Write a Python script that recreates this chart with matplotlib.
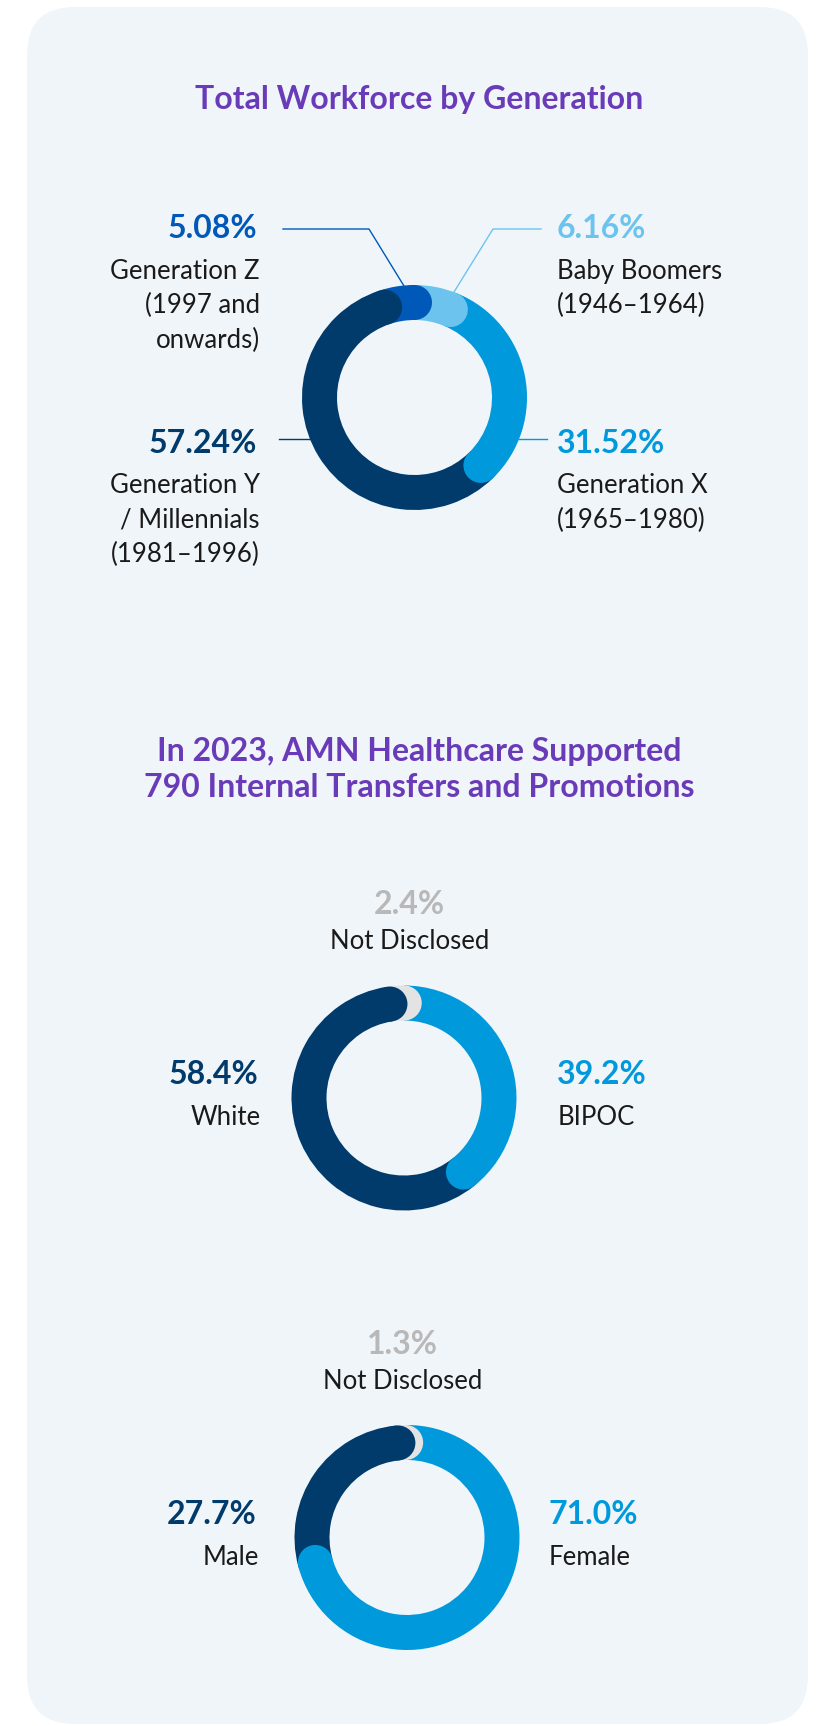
import matplotlib.pyplot as plt
import numpy as np
from matplotlib.patches import Circle, FancyBboxPatch

# Canvas in pixels, y grows downwards.
W, H = 827, 1726

NAVY = "#003b6b"
MID = "#0099db"
LIGHT = "#6cc4ee"
GENZ = "#0059b8"
GREY = "#e3e3e3"
GREY_TXT = "#b8b8b8"
PURPLE = "#6a3bb8"
PANEL = "#f0f5fa"
INK = "#1a1a1a"
FONT = ["Lato", "DejaVu Sans"]

# Data.
title_gen = "Total Workforce by Generation"
title_moves = ["In 2023, AMN Healthcare Supported",
               "790 Internal Transfers and Promotions"]

gen_names = [["Generation Z", "(1997 and", "onwards)"],
             ["Baby Boomers", "(1946–1964)"],
             ["Generation X", "(1965–1980)"],
             ["Generation Y", "/ Millennials", "(1981–1996)"]]
gen_values = [5.08, 6.16, 31.52, 57.24]
gen_colors = [GENZ, LIGHT, MID, NAVY]

eth_names = ["Not Disclosed", "BIPOC", "White"]
eth_values = [2.4, 39.2, 58.4]
eth_colors = [GREY, MID, NAVY]

sex_names = ["Not Disclosed", "Female", "Male"]
sex_values = [1.3, 71.0, 27.7]
sex_colors = [GREY, MID, NAVY]

R_OUT, RING = 112.5, 35
LINE_STEP = 34.5
PCT_SIZE, BODY_SIZE, TITLE_SIZE = 23, 18.5, 23


def donut(ax, center, values, colors, start_cw):
    """Ring chart with a round cap at the end of every segment.
    start_cw is measured clockwise from 12 o'clock (y axis is flipped,
    so counterclockwise in data space is clockwise on screen)."""
    ax.pie(values, colors=colors, startangle=start_cw - 90, counterclock=True,
           radius=R_OUT, center=center,
           wedgeprops=dict(width=RING, linewidth=0, edgecolor="none"))
    r_mid = R_OUT - RING / 2
    ends = start_cw - 90 + 360 * np.cumsum(values) / np.sum(values)
    for ang, col in zip(ends, colors):
        t = np.deg2rad(ang)
        ax.add_patch(Circle((center[0] + r_mid * np.cos(t),
                             center[1] + r_mid * np.sin(t)),
                            RING / 2, facecolor=col, lw=0, zorder=3))


def txt(ax, x, y, s, size, color=INK, weight="normal", ha="left"):
    ax.text(x, y, s, fontsize=size, color=color, fontweight=weight,
            ha=ha, va="baseline", family=FONT)


def block(ax, x, y, pct, lines, color, ha):
    txt(ax, x, y, pct, PCT_SIZE, color=color, weight="bold", ha=ha)
    # body lines sit a little further out than the percentage on the left side
    bx = x + 3 if ha == "right" else x
    for i, line in enumerate(lines):
        txt(ax, bx, y + 40.5 + i * LINE_STEP, line, BODY_SIZE, ha=ha)


fig = plt.figure(figsize=(W / 100, H / 100), dpi=100, facecolor="white")
ax = fig.add_axes([0, 0, 1, 1])

ax.add_patch(FancyBboxPatch((27, 7), 781, 1717,
                            boxstyle="round,pad=0,rounding_size=48",
                            facecolor=PANEL, edgecolor="none", zorder=0))

# --- Total workforce by generation ---
txt(ax, 419, 108.5, title_gen, TITLE_SIZE, color=PURPLE, weight="bold", ha="center")
c1 = (414.5, 397.5)
donut(ax, c1, gen_values, gen_colors, -18.3)

gen_pct = [f"{v:.2f}%" for v in gen_values]
block(ax, 257, 238.3, gen_pct[0], gen_names[0], gen_colors[0], "right")
block(ax, 557, 238.3, gen_pct[1], gen_names[1], gen_colors[1], "left")
block(ax, 557, 452.7, gen_pct[2], gen_names[2], gen_colors[2], "left")
block(ax, 257, 452.7, gen_pct[3], gen_names[3], gen_colors[3], "right")

# leader lines
ax.plot([283, 369, 404], [229, 229, 286], color=gen_colors[0], lw=1.0)
ax.plot([541, 493, 454], [229, 229, 292], color=gen_colors[1], lw=1.0)
dx = np.sqrt(R_OUT ** 2 - (439 - c1[1]) ** 2)
ax.plot([279, c1[0] - dx], [439, 439], color=gen_colors[3], lw=1.0)
ax.plot([c1[0] + dx, 547], [439, 439], color=gen_colors[2], lw=1.0)

# --- Transfers and promotions ---
txt(ax, 419, 760.7, title_moves[0], TITLE_SIZE, color=PURPLE, weight="bold", ha="center")
txt(ax, 419, 796.7, title_moves[1], TITLE_SIZE, color=PURPLE, weight="bold", ha="center")

donut(ax, (404, 1098), eth_values, eth_colors, -8.5)
eth_pct = [f"{v:.1f}%" for v in eth_values]
txt(ax, 409.5, 914, eth_pct[0], PCT_SIZE, color=GREY_TXT, weight="bold", ha="center")
txt(ax, 409.5, 949.3, eth_names[0], BODY_SIZE, ha="center")
block(ax, 557.3, 1084, eth_pct[1], [eth_names[1]], eth_colors[1], "left")
block(ax, 258, 1084, eth_pct[2], [eth_names[2]], eth_colors[2], "right")

donut(ax, (407, 1537.5), sex_values, sex_colors, -5.5)
sex_pct = [f"{v:.1f}%" for v in sex_values]
txt(ax, 402.5, 1354.3, sex_pct[0], PCT_SIZE, color=GREY_TXT, weight="bold", ha="center")
txt(ax, 402.5, 1389.3, sex_names[0], BODY_SIZE, ha="center")
block(ax, 548.5, 1524, sex_pct[1], [sex_names[1]], sex_colors[1], "left")
block(ax, 256, 1524, sex_pct[2], [sex_names[2]], sex_colors[2], "right")

ax.set_xlim(0, W)
ax.set_ylim(H, 0)
ax.set_aspect("auto")
ax.axis("off")

fig.savefig("out.png", dpi=100, facecolor="white")
